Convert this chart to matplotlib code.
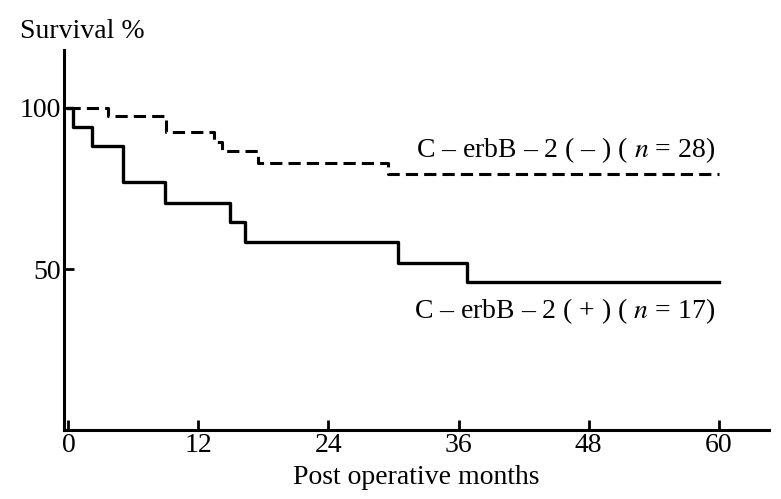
import numpy as np
import matplotlib
matplotlib.use("Agg")
import matplotlib.pyplot as plt

plt.rcParams['font.family'] = ['Liberation Serif', 'DejaVu Serif']
plt.rcParams['mathtext.fontset'] = 'stix'

# Kaplan-Meier steps (months, survival %)
neg_months = [0, 3.7, 9.0, 13.4, 14.2, 17.5, 29.5, 60]
neg_surv = [100, 97.5, 92.5, 89.5, 86.5, 83.0, 79.4, 79.4]
pos_months = [0, 0.4, 2.2, 5.0, 8.9, 14.9, 16.3, 30.4, 36.8, 60]
pos_surv = [100, 94.1, 88.2, 76.9, 70.5, 64.7, 58.5, 52.0, 46.0, 46.0]

neg_label = 'C – erbB – 2 ( – ) ( $n$ = 28)'
pos_label = 'C – erbB – 2 ( + ) ( $n$ = 17)'
xticks = [0, 12, 24, 36, 48, 60]
yticks = [50, 100]

fig = plt.figure(figsize=(7.81, 4.99), dpi=100)
ax = fig.add_axes([0.082, 0.138, 0.902, 0.762])

ax.step(neg_months, neg_surv, where='post', color='k', lw=2.2,
        linestyle=(0, (4, 2)))
ax.step(pos_months, pos_surv, where='post', color='k', lw=2.4)

ax.set_xlim(-0.4, 64.6)
ax.set_ylim(0, 118)
ax.set_xticks(xticks)
ax.set_yticks(yticks)
ax.tick_params(direction='in', length=7, width=2, labelsize=20, pad=2)
for s in ['top', 'right']:
    ax.spines[s].set_visible(False)
for s in ['left', 'bottom']:
    ax.spines[s].set_linewidth(2.2)

ax.text(59.7, 86.9, neg_label, ha='right', va='center', fontsize=20)
ax.text(59.7, 36.9, pos_label, ha='right', va='center', fontsize=20)
ax.set_xlabel('Post operative months', fontsize=20, labelpad=5)
fig.text(20 / 781, 1 - 32 / 499, 'Survival %', ha='left', va='center',
         fontsize=20)

fig.savefig('out.png', dpi=100)
